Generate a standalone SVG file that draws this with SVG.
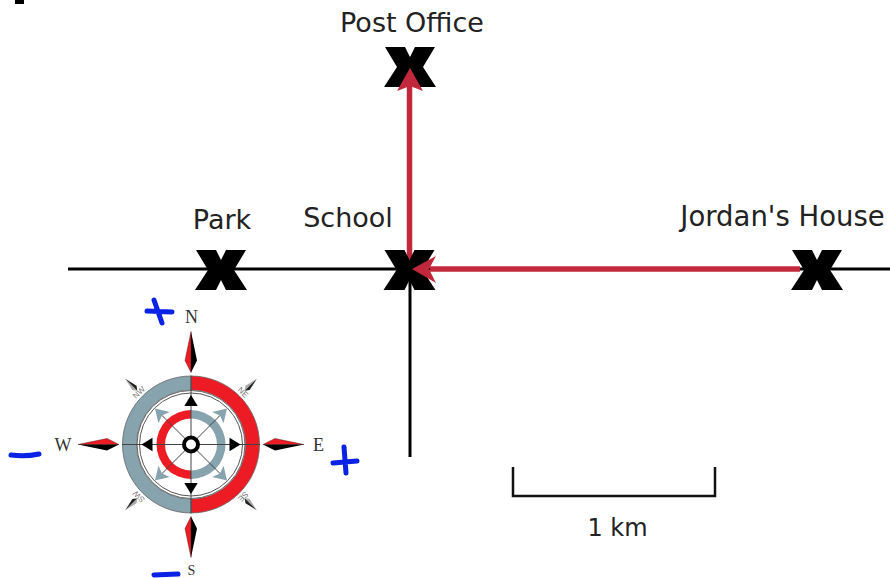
<svg xmlns="http://www.w3.org/2000/svg" xmlns:xlink="http://www.w3.org/1999/xlink" width="890" height="578" viewBox="0 0 890 578">
<style>
.lbl{font-family:"DejaVu Sans",sans-serif;font-size:27px;fill:#222;text-anchor:middle}
.blk{stroke:#000;stroke-width:3;fill:none}
.red{stroke:#c1283c;stroke-width:5.500;fill:none}
.redh{fill:#c1283c}
.cmp{font-family:"Liberation Serif",serif;font-size:18px;fill:#333;text-anchor:middle}
.sm{font-family:"Liberation Sans",sans-serif;font-size:8px;fill:#777;text-anchor:middle}
.thin{stroke:#444;stroke-width:1;fill:none}
.ink{stroke:#0a22e6;stroke-width:5;stroke-linecap:round;fill:none}
.gr{fill:#87a3ae}
.rd{fill:#ed1c24}
</style>
<defs>
<polygon id="x" points="-25,-20 -5,-20 0,-10 5,-20 25,-20 13,0 26,20 5,20 0,10 -5,20 -26,20 -13,0" fill="#000"/>
<g id="nd"><polygon points="0,-113 -6,-84 0,-72" class="rd" stroke="#400" stroke-width=".4"/><polygon points="0,-113 6,-84 0,-72" fill="#000"/></g>
<g id="dn"><polygon points="0,-93 -3,-80 0,-76" fill="#aaa"/><polygon points="0,-93 3,-80 0,-76" fill="#222"/></g>
<polygon id="gar" points="0,-51 -8,-38 0,-41 8,-38" class="gr"/>
<polygon id="bar" points="0,-49.500 -6.700,-38.500 6.700,-38.500" fill="#000"/>
</defs>
<rect width="890" height="578" fill="#fff"/>
<rect x="15" y="0" width="9" height="4" fill="#000"/>
<g id="connectors">
<path class="blk" d="M68 269H890"/>
<path class="blk" d="M410 270V457"/>
<path class="red" d="M409.500 84V269"/>
<path class="red" d="M430 269H800"/>
</g>
<g id="post-office"><use xlink:href="#x" href="#x" transform="translate(410 67)"/><text class="lbl" x="412" y="32">Post Office</text></g>
<g id="park"><use xlink:href="#x" href="#x" transform="translate(221 270)"/><text class="lbl" x="222" y="229">Park</text></g>
<g id="school"><use xlink:href="#x" href="#x" transform="translate(409.500 270)"/><text class="lbl" x="348" y="227">School</text></g>
<g id="jordan"><use xlink:href="#x" href="#x" transform="translate(817 270)"/><text class="lbl" x="782.500" y="226" style="font-size:27.500px">Jordan's House</text></g>
<polygon class="redh" points="412,269 436,256 429,269 436,283"/>
<polygon class="redh" points="410,68 423,91 410,86 397,91"/>
<g id="scale"><path d="M513 467V496H715V467" stroke="#111" stroke-width="2.500" fill="none"/><text class="lbl" x="617.500" y="536" style="font-size:24px">1 km</text></g>
<g id="compass">
<g transform="translate(191 444.500)">
<use xlink:href="#nd" href="#nd"/>
<use xlink:href="#nd" href="#nd" transform="rotate(90)"/>
<use xlink:href="#nd" href="#nd" transform="rotate(180) scale(-1 1)"/>
<use xlink:href="#nd" href="#nd" transform="rotate(270) scale(-1 1)"/>
<use xlink:href="#dn" href="#dn" transform="rotate(45)"/>
<use xlink:href="#dn" href="#dn" transform="rotate(135)"/>
<use xlink:href="#dn" href="#dn" transform="rotate(225)"/>
<use xlink:href="#dn" href="#dn" transform="rotate(315)"/>
<path d="M0,-68.500A68.500,68.500 0 0 1 0,68.500V54.500A54.500,54.500 0 0 0 0,-54.500Z" class="rd" stroke="#666" stroke-width=".8"/>
<path d="M0,-68.500A68.500,68.500 0 0 0 0,68.500V54.500A54.500,54.500 0 0 1 0,-54.500Z" class="gr" stroke="#666" stroke-width=".8"/>
<circle r="54" fill="#fff" stroke="#666" stroke-width="1"/>
<circle r="51.500" fill="#fff" stroke="#555" stroke-width="1"/>
<path d="M0,-34.500A34.500,34.500 0 0 1 0,34.500V26A26,26 0 0 0 0,-26Z" class="gr"/>
<path d="M0,-34.500A34.500,34.500 0 0 0 0,34.500V26A26,26 0 0 1 0,-26Z" class="rd"/>
<path class="thin" d="M-69,0H69M0,-69V69M-34,-34L34,34M-34,34L34,-34"/>
<use xlink:href="#bar" href="#bar"/>
<use xlink:href="#bar" href="#bar" transform="rotate(90)"/>
<use xlink:href="#bar" href="#bar" transform="rotate(180)"/>
<use xlink:href="#bar" href="#bar" transform="rotate(270)"/>
<use xlink:href="#gar" href="#gar" transform="rotate(45)"/>
<use xlink:href="#gar" href="#gar" transform="rotate(135)"/>
<use xlink:href="#gar" href="#gar" transform="rotate(225)"/>
<use xlink:href="#gar" href="#gar" transform="rotate(315)"/>
<circle r="7" fill="#fff" stroke="#000" stroke-width="4"/>
<text class="sm" transform="rotate(45) translate(0 -71)">NE</text>
<text class="sm" transform="rotate(-45) translate(0 -71)">NW</text>
<text class="sm" transform="rotate(135) translate(0 -71)">SE</text>
<text class="sm" transform="rotate(225) translate(0 -71)">SW</text>
</g>
<text class="cmp" x="191.500" y="323">N</text>
<text class="cmp" x="63" y="451">W</text>
<text class="cmp" x="318.500" y="451">E</text>
<text class="cmp" x="191.500" y="574.500" style="font-size:14px">S</text>
</g>
<g id="annotations">
<path class="ink" d="M147 311L172 312M154 300L162 323"/>
<path class="ink" d="M11 455Q25 457 39 454"/>
<path class="ink" d="M333 463L357 461M344 447L346 473"/>
<path class="ink" d="M154 575L178 574"/>
</g>
</svg>
